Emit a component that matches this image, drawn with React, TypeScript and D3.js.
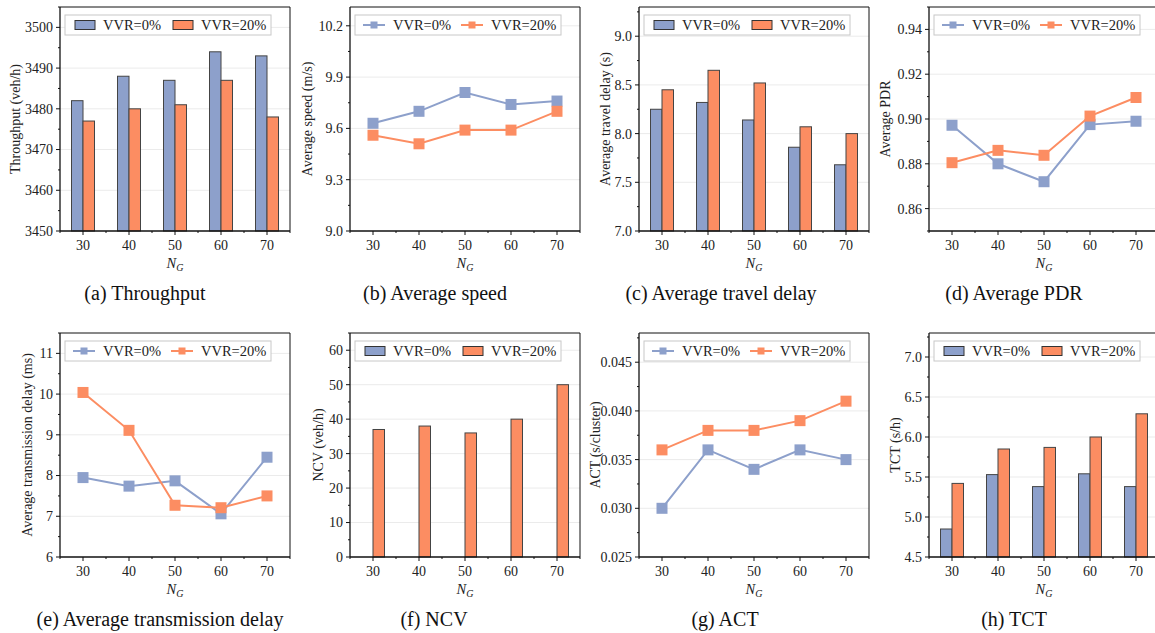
import * as d3 from 'd3';

const NG = [30, 40, 50, 60, 70];
const SERIES = ['VVR=0%', 'VVR=20%'];
const COLORS = ['#8da0cb', '#fc8d62'];

const throughput0 = [3482, 3488, 3487, 3494, 3493];
const throughput20 = [3477, 3480, 3481, 3487, 3478];
const speed0 = [9.63, 9.7, 9.81, 9.74, 9.76];
const speed20 = [9.56, 9.51, 9.59, 9.59, 9.7];
const travelDelay0 = [8.25, 8.32, 8.14, 7.86, 7.68];
const travelDelay20 = [8.45, 8.65, 8.52, 8.07, 8.0];
const pdr0 = [0.8972, 0.88, 0.872, 0.8975, 0.899];
const pdr20 = [0.8805, 0.886, 0.8838, 0.9013, 0.9096];
const transDelay0 = [7.95, 7.74, 7.87, 7.06, 8.45];
const transDelay20 = [10.04, 9.11, 7.27, 7.21, 7.5];
const ncv0 = [0, 0, 0, 0, 0];
const ncv20 = [37, 38, 36, 40, 50];
const act0 = [0.03, 0.036, 0.034, 0.036, 0.035];
const act20 = [0.036, 0.038, 0.038, 0.039, 0.041];
const tct0 = [4.85, 5.53, 5.38, 5.54, 5.38];
const tct20 = [5.42, 5.85, 5.87, 6.0, 6.29];

const ticksA = [3450, 3460, 3470, 3480, 3490, 3500];
const ticksB = [9.0, 9.3, 9.6, 9.9, 10.2];
const ticksC = [7.0, 7.5, 8.0, 8.5, 9.0];
const ticksD = [0.86, 0.88, 0.9, 0.92, 0.94];
const ticksE = [6, 7, 8, 9, 10, 11];
const ticksF = [0, 10, 20, 30, 40, 50, 60];
const ticksG = [0.025, 0.03, 0.035, 0.04, 0.045];
const ticksH = [4.5, 5.0, 5.5, 6.0, 6.5, 7.0];

const FONT = '"Liberation Serif", "Times New Roman", serif';
const W = 230;
const H = 224;

type PanelProps = {
  left: number;
  top: number;
  kind: 'bar' | 'line';
  s0: number[];
  s20: number[];
  yDomain: [number, number];
  yTicks: number[];
  digits: number;
  yLabel: string;
  labelOffset: number;
  caption: string;
  captionX: number;
};

const Panel = ({ left, top, kind, s0, s20, yDomain, yTicks, digits, yLabel, labelOffset, caption, captionX }: PanelProps) => {
  const x = d3.scaleLinear().domain([25, 75]).range([left, left + W]);
  const y = d3.scaleLinear().domain(yDomain).range([top + H, top]);
  const bottom = top + H;
  const step = yTicks[1] - yTicks[0];
  // half-step minor ticks on the y axis
  const minors: number[] = [];
  for (let v = yTicks[0] - step / 2; v <= yDomain[1] + 1e-9; v += step) {
    if (v >= yDomain[0] - 1e-9) minors.push(v);
  }
  const series = [s0, s20];
  const line = d3
    .line<number>()
    .x((_, i) => x(NG[i]))
    .y((d) => y(d));

  return (
    <g fontFamily={FONT}>
      {yTicks.map((t) =>
        y(t) < bottom - 1 ? (
          <line key={'g' + t} x1={left} x2={left + W} y1={y(t)} y2={y(t)} stroke="#ebebeb" strokeWidth={1} />
        ) : null
      )}
      {kind === 'bar' &&
        series.map((s, si) =>
          s.map((v, i) => (
            <rect
              key={si + '-' + i}
              x={x(NG[i] + (si === 0 ? -2.5 : 0))}
              width={x(27.5) - x(25)}
              y={y(v)}
              height={bottom - y(v)}
              fill={COLORS[si]}
              stroke="#444"
              strokeWidth={1}
            />
          ))
        )}
      {kind === 'line' &&
        series.map((s, si) => (
          <g key={si}>
            <path d={line(s) || ''} fill="none" stroke={COLORS[si]} strokeWidth={2} />
            {s.map((v, i) => (
              <rect key={i} x={x(NG[i]) - 5.5} y={y(v) - 5.5} width={11} height={11} fill={COLORS[si]} />
            ))}
          </g>
        ))}
      <line x1={left} x2={left + W} y1={top} y2={top} stroke="#111" strokeWidth={1} />
      <line x1={left + W} x2={left + W} y1={top} y2={bottom} stroke="#111" strokeWidth={1} />
      <line x1={left} x2={left} y1={top} y2={bottom} stroke="#111" strokeWidth={1.3} />
      <line x1={left} x2={left + W} y1={bottom} y2={bottom} stroke="#111" strokeWidth={1.3} />
      {yTicks.map((t) => (
        <g key={'t' + t}>
          <line x1={left - 4} x2={left} y1={y(t)} y2={y(t)} stroke="#111" />
          <text x={left - 7} y={y(t)} dy="0.35em" textAnchor="end" fontSize={14} fill="#222">
            {d3.format(`.${digits}f`)(t)}
          </text>
        </g>
      ))}
      {minors.map((t) => (
        <line key={'m' + t} x1={left - 2} x2={left} y1={y(t)} y2={y(t)} stroke="#111" />
      ))}
      {NG.map((n) => (
        <g key={'x' + n}>
          <line x1={x(n)} x2={x(n)} y1={bottom} y2={bottom + 4} stroke="#111" />
          <line x1={x(n + 5)} x2={x(n + 5)} y1={bottom} y2={bottom + 2} stroke="#111" />
          <text x={x(n)} y={bottom + 19} textAnchor="middle" fontSize={14} fill="#222">
            {n}
          </text>
        </g>
      ))}
      <line x1={x(25)} x2={x(25)} y1={bottom} y2={bottom + 2} stroke="#111" />
      <text x={left + W / 2} y={bottom + 37} textAnchor="middle" fontSize={14.5} fill="#222" fontStyle="italic">
        N<tspan fontSize={10} dy={3}>G</tspan>
      </text>
      <text
        transform={`translate(${left - labelOffset},${top + H / 2}) rotate(-90)`}
        textAnchor="middle"
        dy="0.35em"
        fontSize={14}
        fill="#222"
      >
        {yLabel}
      </text>
      <g transform={`translate(${left + 5},${top + 8})`}>
        <rect width={206} height={20} fill="#fff" stroke="#c8c8c8" strokeWidth={1} />
        {SERIES.map((name, si) => (
          <g key={name} transform={`translate(${si * 98},0)`}>
            {kind === 'bar' ? (
              <rect x={10} y={5.5} width={20} height={9} fill={COLORS[si]} stroke="#333" strokeWidth={1} />
            ) : (
              <g>
                <line x1={8} x2={30} y1={10} y2={10} stroke={COLORS[si]} strokeWidth={2} />
                <rect x={15.5} y={6.5} width={7} height={7} fill={COLORS[si]} />
              </g>
            )}
            <text x={38} y={10} dy="0.35em" fontSize={14.5} fill="#222">
              {name}
            </text>
          </g>
        ))}
      </g>
      <text x={captionX} y={bottom + 69} textAnchor="middle" fontSize={20} fill="#111">
        {caption}
      </text>
    </g>
  );
};

const LEFTS = [60, 350, 639, 929];
const TOPS = [7, 333];

export default function App() {
  return (
    <svg width={1155} height={633} style={{ position: 'absolute', left: 0, top: 0, background: '#fff' }}>
      <Panel left={LEFTS[0]} top={TOPS[0]} kind="bar" s0={throughput0} s20={throughput20} yDomain={[3450, 3505]} yTicks={ticksA} digits={0} yLabel="Throughput (veh/h)" labelOffset={45} caption="(a) Throughput" captionX={145} />
      <Panel left={LEFTS[1]} top={TOPS[0]} kind="line" s0={speed0} s20={speed20} yDomain={[9.0, 10.31]} yTicks={ticksB} digits={1} yLabel="Average speed (m/s)" labelOffset={43} caption="(b) Average speed" captionX={435} />
      <Panel left={LEFTS[2]} top={TOPS[0]} kind="bar" s0={travelDelay0} s20={travelDelay20} yDomain={[7.0, 9.3]} yTicks={ticksC} digits={1} yLabel="Average travel delay (s)" labelOffset={34} caption="(c) Average travel delay" captionX={721} />
      <Panel left={LEFTS[3]} top={TOPS[0]} kind="line" s0={pdr0} s20={pdr20} yDomain={[0.85, 0.95]} yTicks={ticksD} digits={2} yLabel="Average PDR" labelOffset={44} caption="(d) Average PDR" captionX={1014} />
      <Panel left={LEFTS[0]} top={TOPS[1]} kind="line" s0={transDelay0} s20={transDelay20} yDomain={[6, 11.5]} yTicks={ticksE} digits={0} yLabel="Average transmission delay (ms)" labelOffset={33} caption="(e) Average transmission delay" captionX={160} />
      <Panel left={LEFTS[1]} top={TOPS[1]} kind="bar" s0={ncv0} s20={ncv20} yDomain={[0, 65]} yTicks={ticksF} digits={0} yLabel="NCV (veh/h)" labelOffset={32} caption="(f) NCV" captionX={434} />
      <Panel left={LEFTS[2]} top={TOPS[1]} kind="line" s0={act0} s20={act20} yDomain={[0.025, 0.048]} yTicks={ticksG} digits={3} yLabel="ACT (s/cluster)" labelOffset={44} caption="(g) ACT" captionX={725} />
      <Panel left={LEFTS[3]} top={TOPS[1]} kind="bar" s0={tct0} s20={tct20} yDomain={[4.5, 7.3]} yTicks={ticksH} digits={1} yLabel="TCT (s/h)" labelOffset={34} caption="(h) TCT" captionX={1014} />
    </svg>
  );
}
